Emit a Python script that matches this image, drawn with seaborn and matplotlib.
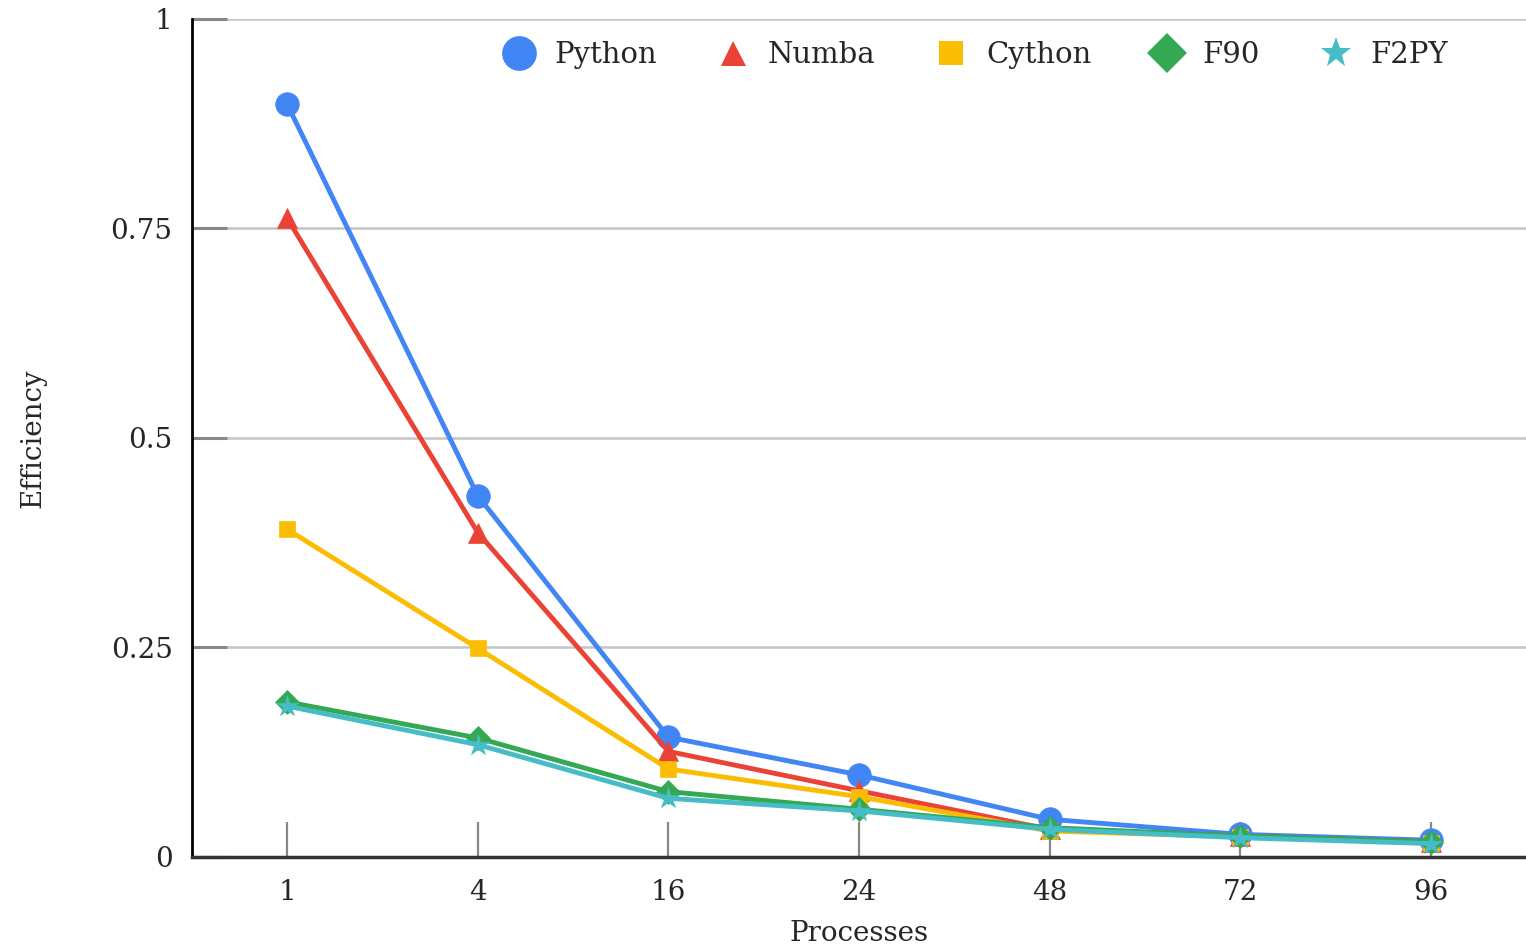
import pandas as pd
import matplotlib
matplotlib.use("Agg")
import matplotlib.pyplot as plt
from matplotlib.lines import Line2D
import seaborn as sns

# Data
processes = ["1", "4", "16", "24", "48", "72", "96"]
python_eff = [0.898, 0.431, 0.143, 0.098, 0.045, 0.027, 0.020]
numba_eff = [0.762, 0.387, 0.126, 0.079, 0.033, 0.025, 0.018]
cython_eff = [0.391, 0.249, 0.105, 0.072, 0.031, 0.024, 0.017]
f90_eff = [0.185, 0.142, 0.078, 0.057, 0.035, 0.025, 0.018]
f2py_eff = [0.180, 0.134, 0.070, 0.055, 0.033, 0.023, 0.016]

series = ["Python", "Numba", "Cython", "F90", "F2PY"]
colors = ["#4285F4", "#EA4335", "#FBBC04", "#34A853", "#46BDC6"]
markers = ["o", "^", "s", "D", "*"]
msizes = [17, 14, 12, 12, 16]
leg_sizes = [25, 18, 17, 20, 23]

values = [python_eff, numba_eff, cython_eff, f90_eff, f2py_eff]
df = pd.concat(
    [pd.DataFrame({"Processes": processes, "Efficiency": v, "Series": s})
     for s, v in zip(series, values)],
    ignore_index=True,
)

sns.set_style("white")
plt.rcParams["font.family"] = ["DejaVu Serif"]

fig = plt.figure(figsize=(15.26, 9.48), dpi=100)
ax = fig.add_axes([0.1258, 0.096, 0.8742, 0.884])

for s, c, m, ms in zip(series, colors, markers, msizes):
    sns.lineplot(data=df[df["Series"] == s], x="Processes", y="Efficiency",
                 color=c, marker=m, markersize=ms, linewidth=3.5,
                 markeredgewidth=0.5, markeredgecolor=c, ax=ax, legend=False,
                 sort=False)

ax.set_xlim(-0.5, len(processes) - 0.5)
ax.set_ylim(0, 1)
ax.set_yticks([0, 0.25, 0.5, 0.75, 1])
ax.set_yticklabels(["0", "0.25", "0.5", "0.75", "1"])
ax.yaxis.grid(True, color="#c4c4c4", linewidth=1.8)
ax.set_axisbelow(True)

ax.tick_params(axis="y", left=True, direction="in", length=25, width=2.2,
               color="#888888", pad=14, labelsize=20)
ax.tick_params(axis="x", bottom=True, direction="in", length=25, width=1.6,
               color="#888888", pad=16, labelsize=20)

for side in ["top", "right"]:
    ax.spines[side].set_visible(False)
ax.spines["left"].set_color("black")
ax.spines["left"].set_linewidth(2)
ax.spines["bottom"].set_color("#333333")
ax.spines["bottom"].set_linewidth(2.5)

ax.set_xlabel("Processes", fontsize=20, labelpad=10)
ax.set_ylabel("Efficiency", fontsize=20, labelpad=46)

handles = [Line2D([], [], color=c, marker=m, linestyle="none", markersize=ms,
                  markeredgewidth=0)
           for c, m, ms in zip(colors, markers, leg_sizes)]
ax.legend(handles, series, loc="center", bbox_to_anchor=(0.587, 0.957),
          ncol=5, frameon=False, fontsize=21, handletextpad=0.6,
          columnspacing=2.0, handlelength=1.2)

fig.savefig("out.png", dpi=100)
